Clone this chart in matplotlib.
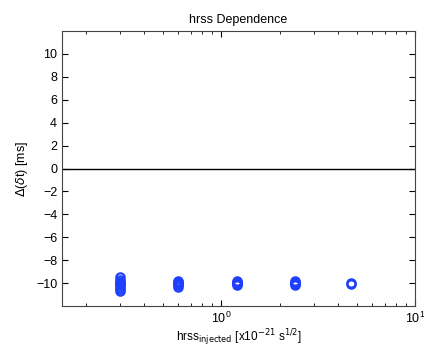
import matplotlib.pyplot as plt
import numpy as np

plt.rcParams['font.family'] = ['Liberation Sans', 'DejaVu Sans']

hrss = [0.3, 0.6, 1.2, 2.4, 4.7]
dt_groups = [
    [-9.5, -9.7, -9.9, -10.0, -10.1, -10.2, -10.3, -10.5, -10.7],
    [-9.8, -9.9, -10.0, -10.1, -10.2, -10.3],
    [-9.8, -9.9, -10.0, -10.1, -10.2],
    [-9.8, -9.9, -10.0, -10.1, -10.2],
    [-10.0, -10.05],
]

fig = plt.figure(figsize=(4.24, 3.47), dpi=100)
ax = fig.add_axes([62 / 424, 1 - 306 / 347, 353 / 424, 275 / 347])

for x, ys in zip(hrss, dt_groups):
    ax.plot([x] * len(ys), ys, 'o', mfc='none', mec='#1f3fff', ms=6, mew=1.6)

ax.axhline(0, color='black', lw=1)
ax.set_xscale('log')
ax.set_xlim(0.151, 10)
ax.set_ylim(-12, 12)
ax.set_yticks(np.arange(-10, 11, 2))
ax.tick_params(direction='in', which='both', top=True, right=True, labelsize=9)
ax.tick_params(which='major', length=4)
ax.tick_params(which='minor', length=2)
for s in ax.spines.values():
    s.set_color('#444444')

ax.set_title('hrss Dependence', fontsize=9)
ax.set_ylabel(r'$\Delta$($\delta$t) [ms]', fontsize=9)
ax.set_xlabel(r'hrss$_{\rm injected}$ [x10$^{-21}$ s$^{1/2}$]', fontsize=8.5, labelpad=1)

fig.savefig('out.png', dpi=100)
